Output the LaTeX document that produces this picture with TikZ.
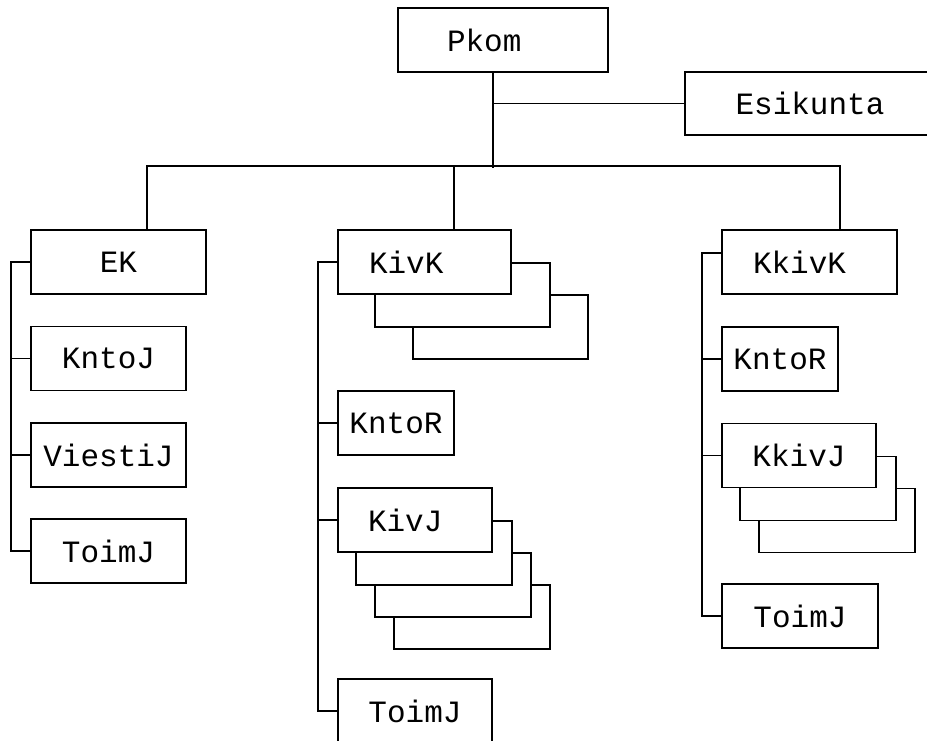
\documentclass[tikz,border=0pt]{standalone}
\usepackage{fontspec}
\setmonofont{Liberation Mono}

\begin{document}
\begin{tikzpicture}[x=1pt, y=-1pt, line width=1.8pt]
          \useasboundingbox (0,0) rectangle (927,740);
          \begin{scope}[every node/.style={draw, minimum height=64pt, inner ysep=0pt, font=\ttfamily\fontsize{31}{31}\selectfont}]
          \node[inner xsep=49pt, text width=112pt, align=left] (pkom) at (503,40) {Pkom};
          \node[minimum width=250pt, minimum height=63pt] (esik) at (810,103.5) {Esikunta};
          % left column
          \node[minimum width=175pt] (ek) at (118.5,262) {EK};
          \node[minimum width=155pt] (kntoj) at (108.5,358.5) {KntoJ};
          \node[minimum width=155pt] (viestij) at (108.5,455) {ViestiJ};
          \node[minimum width=155pt] (toimja) at (108.5,551) {ToimJ};
          % middle column
          \node[inner xsep=31pt, text width=111pt, align=left] (kivk) at (424.5,262) {KivK};
          \node[minimum width=116pt] (kntorb) at (396,423) {KntoR};
          \node[inner xsep=30pt, text width=94pt, align=left] (kivj) at (415,520) {KivJ};
          \node[minimum width=154pt] (toimjb) at (415,711) {ToimJ};
          % right column
          \node[inner xsep=31pt, text width=113pt, align=left] (kkivk) at (809.5,262) {KkivK};
          \node[minimum width=116pt] (kntorc) at (780,359) {KntoR};
          \node[minimum width=154pt] (kkivj) at (799,455.5) {KkivJ};
          \node[minimum width=156pt] (toimjc) at (800,616) {ToimJ};
          \end{scope}
          \draw ([xshift=-10pt]pkom.south) -- ++(0,95);
          \draw (esik.west) -- ([xshift=-10pt]pkom.south |- esik.west);
          \draw ([xshift=28.5pt]ek.north) -- ++(0,-63) -| ([xshift=30.5pt]kkivk.north);
          \draw ([xshift=29.5pt]kivk.north) -- ++(0,-63);
          \draw (ek.west) -- ++(-19,0) |- (toimja.west);
          \draw (kivk.west) -- ++(-19,0) |- (toimjb.west);
          \draw ([yshift=9pt]kkivk.west) -- ++(-19,0) |- (toimjc.west);
          \foreach \n in {kntoj, viestij, kntorb, kivj, kntorc, kkivj}
            \draw (\n.west) -- ++(-19,0);
          % stacked copies
          \foreach \n/\dx/\k in {kivk/38/2, kivj/19/3, kkivj/19/2}
            \foreach \i in {1,...,\k}
              \draw ([shift={({\dx*(\i-1)},{32*\i-64})}]\n.south east) -| ([shift={({\dx*\i},{32*\i})}]\n.south east)
                -| ([shift={({\dx*\i},{32*(\i-1)})}]\n.south west);
\end{tikzpicture}
\end{document}
